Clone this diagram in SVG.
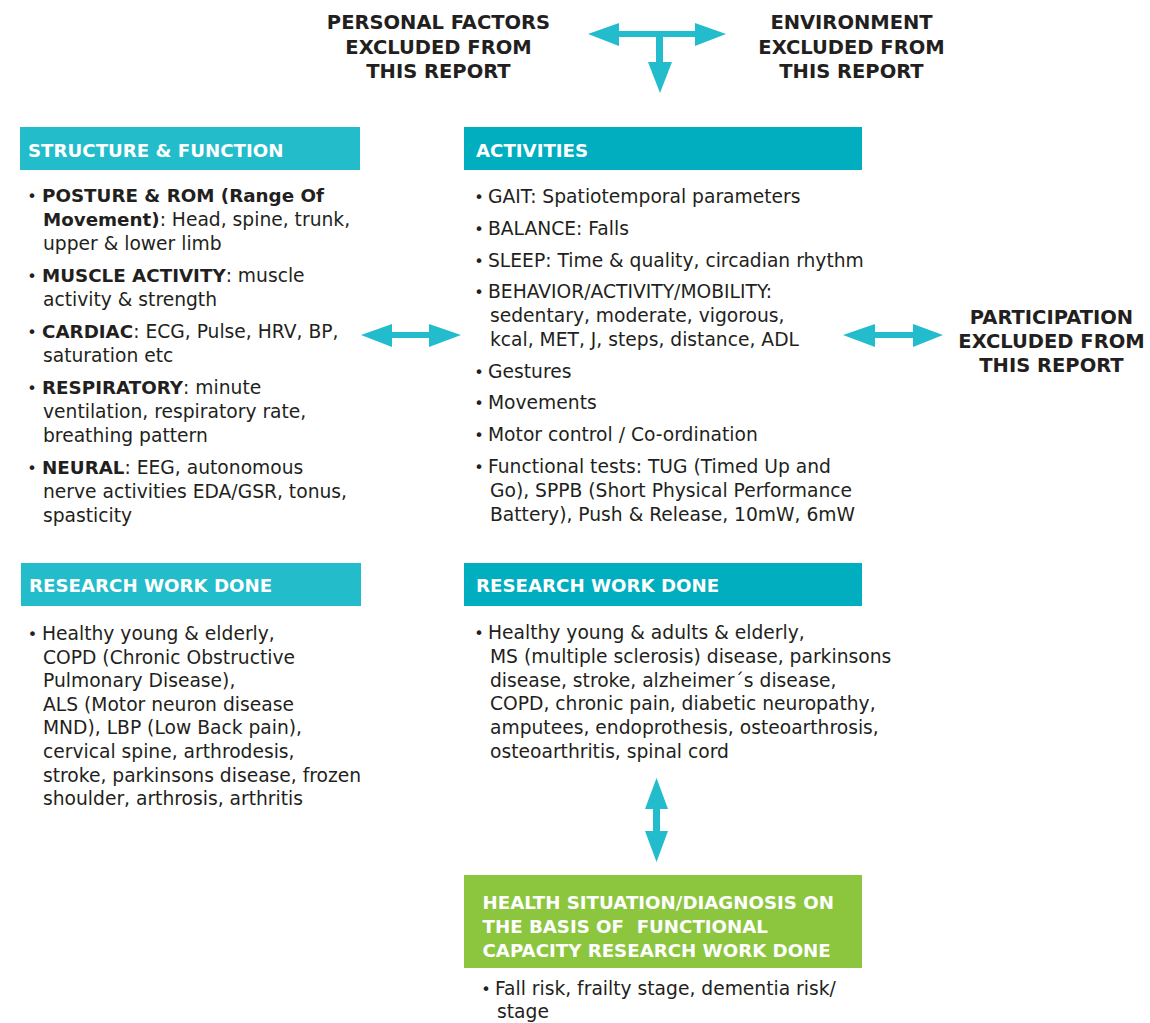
<svg xmlns="http://www.w3.org/2000/svg" width="1150" height="1023" viewBox="0 0 1150 1023">
<style>
.t{font-family:"DejaVu Sans","Liberation Sans",sans-serif;font-size:18.7px;fill:#231f20}
.b{font-weight:bold;font-size:18.3px}
.h{font-family:"DejaVu Sans","Liberation Sans",sans-serif;font-weight:bold;font-size:18.2px;fill:#ffffff}
.x{font-family:"DejaVu Sans","Liberation Sans",sans-serif;font-weight:bold;font-size:19.5px;fill:#231f20;text-anchor:middle}
.u{font-family:"DejaVu Sans","Liberation Sans",sans-serif;font-size:16px;fill:#231f20;text-anchor:middle}
.lc{fill:#22bccb}
.dc{fill:#00aebf}
.gr{fill:#8cc63f}
.ar{fill:#22bccc}
</style>
<rect width="1150" height="1023" fill="#ffffff"/>

<g id="personal-factors">
<text class="x" x="438.5" y="29">PERSONAL FACTORS</text>
<text class="x" x="438.5" y="54">EXCLUDED FROM</text>
<text class="x" x="438.5" y="78">THIS REPORT</text>
</g>

<g id="environment">
<text class="x" x="851.5" y="29">ENVIRONMENT</text>
<text class="x" x="851.5" y="54">EXCLUDED FROM</text>
<text class="x" x="851.5" y="78">THIS REPORT</text>
</g>

<g id="participation">
<text class="x" x="1051.5" y="324">PARTICIPATION</text>
<text class="x" x="1051.5" y="348">EXCLUDED FROM</text>
<text class="x" x="1051.5" y="372">THIS REPORT</text>
</g>

<g id="structure-function">
<rect class="lc" x="20" y="127" width="340" height="43"/>
<text class="h" x="28" y="156.5">STRUCTURE &amp; FUNCTION</text>
<text class="u" x="32" y="202">•</text>
<text class="t" x="42" y="202"><tspan class="b">POSTURE &amp; ROM (Range Of</tspan></text>
<text class="t" x="43" y="226"><tspan class="b">Movement)</tspan>: Head, spine, trunk,</text>
<text class="t" x="43" y="250">upper &amp; lower limb</text>
<text class="u" x="32" y="282">•</text>
<text class="t" x="42" y="282"><tspan class="b">MUSCLE ACTIVITY</tspan>: muscle</text>
<text class="t" x="43" y="306">activity &amp; strength</text>
<text class="u" x="32" y="338">•</text>
<text class="t" x="42" y="338"><tspan class="b">CARDIAC</tspan>: ECG, Pulse, HRV, BP,</text>
<text class="t" x="43" y="362">saturation etc</text>
<text class="u" x="32" y="394">•</text>
<text class="t" x="42" y="394"><tspan class="b">RESPIRATORY</tspan>: minute</text>
<text class="t" x="43" y="418">ventilation, respiratory rate,</text>
<text class="t" x="43" y="442">breathing pattern</text>
<text class="u" x="32" y="474">•</text>
<text class="t" x="42" y="474"><tspan class="b">NEURAL</tspan>: EEG, autonomous</text>
<text class="t" x="43" y="498">nerve activities EDA/GSR, tonus,</text>
<text class="t" x="43" y="522">spasticity</text>
</g>

<g id="activities">
<rect class="dc" x="464" y="127" width="398" height="43"/>
<text class="h" x="476" y="156.5">ACTIVITIES</text>
<text class="u" x="479" y="203">•</text>
<text class="t" x="488" y="203">GAIT: Spatiotemporal parameters</text>
<text class="u" x="479" y="235">•</text>
<text class="t" x="488" y="235">BALANCE: Falls</text>
<text class="u" x="479" y="267">•</text>
<text class="t" x="488" y="267">SLEEP: Time &amp; quality, circadian rhythm</text>
<text class="u" x="479" y="298">•</text>
<text class="t" x="488" y="298">BEHAVIOR/ACTIVITY/MOBILITY:</text>
<text class="t" x="490" y="322">sedentary, moderate, vigorous,</text>
<text class="t" x="490" y="346">kcal, MET, J, steps, distance, ADL</text>
<text class="u" x="479" y="378">•</text>
<text class="t" x="488" y="378">Gestures</text>
<text class="u" x="479" y="409">•</text>
<text class="t" x="488" y="409">Movements</text>
<text class="u" x="479" y="441">•</text>
<text class="t" x="488" y="441">Motor control / Co-ordination</text>
<text class="u" x="479" y="473">•</text>
<text class="t" x="488" y="473">Functional tests: TUG (Timed Up and</text>
<text class="t" x="490" y="497">Go), SPPB (Short Physical Performance</text>
<text class="t" x="490" y="521">Battery), Push &amp; Release, 10mW, 6mW</text>
</g>

<g id="research-left">
<rect class="lc" x="21" y="563" width="340" height="43"/>
<text class="h" x="29" y="591.5">RESEARCH WORK DONE</text>
<text class="u" x="32.5" y="640">•</text>
<text class="t" x="42" y="640">Healthy young &amp; elderly,</text>
<text class="t" x="43" y="663.6">COPD (Chronic Obstructive</text>
<text class="t" x="43" y="687.2">Pulmonary Disease),</text>
<text class="t" x="43" y="710.8">ALS (Motor neuron disease</text>
<text class="t" x="43" y="734.4">MND), LBP (Low Back pain),</text>
<text class="t" x="43" y="758">cervical spine, arthrodesis,</text>
<text class="t" x="43" y="781.6">stroke, parkinsons disease, frozen</text>
<text class="t" x="43" y="805.2">shoulder, arthrosis, arthritis</text>
</g>

<g id="research-right">
<rect class="dc" x="464" y="563" width="398" height="43"/>
<text class="h" x="476" y="591.5">RESEARCH WORK DONE</text>
<text class="u" x="479" y="638.5">•</text>
<text class="t" x="488" y="638.5">Healthy young &amp; adults &amp; elderly,</text>
<text class="t" x="490" y="662.5">MS (multiple sclerosis) disease, parkinsons</text>
<text class="t" x="490" y="686.5">disease, stroke, alzheimer´s disease,</text>
<text class="t" x="490" y="710.3">COPD, chronic pain, diabetic neuropathy,</text>
<text class="t" x="490" y="734.3">amputees, endoprothesis, osteoarthrosis,</text>
<text class="t" x="490" y="758.3">osteoarthritis, spinal cord</text>
</g>

<g id="health-situation">
<rect class="gr" x="464" y="875" width="398" height="93"/>
<text class="h" x="482.5" y="909">HEALTH SITUATION/DIAGNOSIS ON</text>
<text class="h" x="482.5" y="933" xml:space="preserve">THE BASIS OF  FUNCTIONAL</text>
<text class="h" x="482.5" y="957">CAPACITY RESEARCH WORK DONE</text>
<text class="u" x="486" y="995">•</text>
<text class="t" x="495" y="995">Fall risk, frailty stage, dementia risk/</text>
<text class="t" x="497" y="1018">stage</text>
</g>

<g id="connectors">
<g id="top-arrow">
<rect class="ar" x="617" y="31" width="80" height="6"/>
<polygon class="ar" points="588,34 619,23 619,46"/>
<polygon class="ar" points="726,34 695,23 695,46"/>
<rect class="ar" x="656" y="34" width="7" height="30"/>
<polygon class="ar" points="648,62 672,62 660,93"/>
</g>
<g id="left-arrow">
<rect class="ar" x="390" y="332" width="41" height="6"/>
<polygon class="ar" points="361,335 392,324 392,347"/>
<polygon class="ar" points="461,335 429,324 429,347"/>
</g>
<g id="right-arrow">
<rect class="ar" x="873" y="332" width="42" height="6"/>
<polygon class="ar" points="843,335 875,324 875,347"/>
<polygon class="ar" points="943,335 913,324 913,347"/>
</g>
<g id="bottom-arrow">
<rect class="ar" x="653" y="807" width="7" height="26"/>
<polygon class="ar" points="656.5,778 645,809 668,809"/>
<polygon class="ar" points="656.5,862 645,831 668,831"/>
</g>
</g>
</svg>
